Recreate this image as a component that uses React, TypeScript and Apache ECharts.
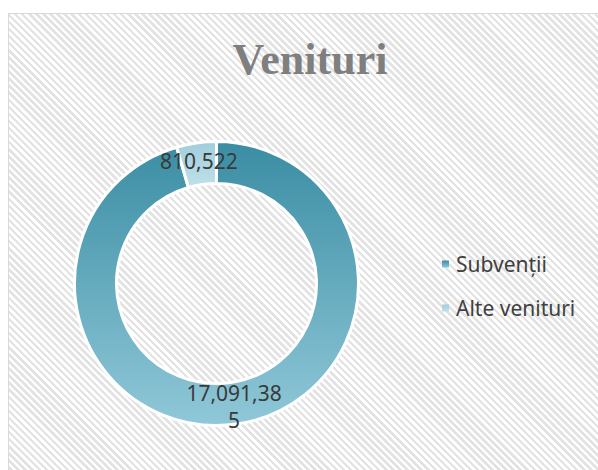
import React, { useEffect, useRef } from "react";
import * as echarts from "echarts";

const titleText = "Venituri";
const categories = ["Subvenții", "Alte venituri"];
const values = [17091385, 810522];

const topColors = ["#3a8da3", "#a0cddb"];
const bottomColors = ["#90c8d8", "#c0e1ea"];

export default function App() {
  const ref = useRef<HTMLDivElement>(null);

  useEffect(() => {
    if (!ref.current) return;
    const chart = echarts.init(ref.current, undefined, { renderer: "svg" });
    const data = categories.map((name, i) => ({
      name,
      value: values[i],
      itemStyle: {
        color: {
          type: "linear",
          x: 0,
          y: 0,
          x2: 0,
          y2: 1,
          colorStops: [
            { offset: 0, color: topColors[i] },
            { offset: 1, color: bottomColors[i] },
          ],
        },
      },
    }));
    chart.setOption({
      animation: false,
      backgroundColor: "transparent",
      title: {
        text: titleText,
        left: 305,
        top: 32,
        textAlign: "center",
        textStyle: {
          fontFamily: "Liberation Serif",
          fontWeight: "bold",
          fontSize: 44,
          color: "#7f7f7f",
        },
      },
      legend: {
        orient: "vertical",
        left: 437,
        top: 247,
        itemWidth: 7,
        itemHeight: 7,
        itemGap: 20,
        icon: "rect",
        data: categories,
        itemStyle: { borderWidth: 0 },
        textStyle: {
          fontFamily: "Noto Sans",
          fontSize: 21,
          lineHeight: 24,
          color: "#404040",
          padding: [0, 0, 0, 2],
        },
      },
      series: [
        {
          type: "pie",
          center: [216.5, 283.5],
          radius: [100, 142],
          startAngle: 90,
          clockwise: true,
          avoidLabelOverlap: false,
          itemStyle: { borderColor: "#ffffff", borderWidth: 3 },
          label: {
            show: true,
            position: "inside",
            formatter: (p: any) => Number(p.value).toLocaleString("en-US"),
            fontFamily: "Noto Sans",
            fontSize: 21,
            lineHeight: 27,
            color: "#3a3a3a",
            width: 100,
            overflow: "breakAll",
          },
          labelLine: { show: false },
          emphasis: { disabled: true },
          data,
        },
      ],
    });
    return () => chart.dispose();
  }, []);

  return (
    <div
      style={{
        position: "absolute",
        left: 0,
        top: 0,
        width: 598,
        height: 470,
        overflow: "hidden",
        background: "#ffffff",
      }}
    >
      <div
        style={{
          position: "absolute",
          left: 8,
          top: 13,
          width: 620,
          height: 480,
          borderLeft: "1.5px solid #d9d9d9",
          borderTop: "1.5px solid #d9d9d9",
          background:
            "repeating-linear-gradient(45deg, #ffffff 0px, #ffffff 2.5px, #e3e3e3 2.5px, #e3e3e3 5px)",
        }}
      />
      <div
        ref={ref}
        style={{ position: "absolute", left: 0, top: 0, width: 598, height: 470 }}
      />
    </div>
  );
}
